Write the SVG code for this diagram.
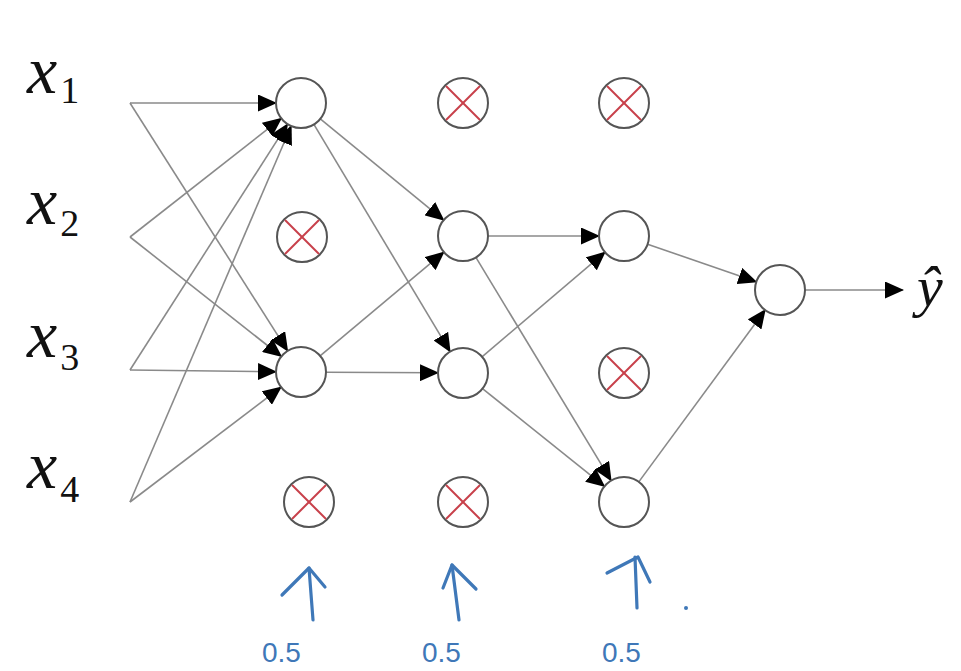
<svg xmlns="http://www.w3.org/2000/svg" width="961" height="671" viewBox="0 0 961 671">
<style>
.n{fill:#fff;stroke:#555;stroke-width:2}
.e{stroke:#8a8a8a;stroke-width:1.6;fill:none;marker-end:url(#ah)}
.x{stroke:#c8404a;stroke-width:2}
.lbl{font-family:"Liberation Serif","DejaVu Serif",serif;fill:#111}
.b{stroke:#3f78b8;stroke-width:3.2;fill:none;stroke-linecap:round;stroke-linejoin:round}
.bt{font-family:"Liberation Sans","DejaVu Sans",sans-serif;fill:#3f78b8;font-size:28px}
</style>
<defs>
<marker id="ah" markerUnits="userSpaceOnUse" markerWidth="19" markerHeight="17" refX="18" refY="8.5" orient="auto">
<path d="M0,0 L19,8.5 L0,17 z" fill="#000"/>
</marker>
<g id="drop-mark">
<line class="x" x1="-17" y1="-17" x2="17" y2="17"/>
<line class="x" x1="-17" y1="17" x2="17" y2="-17"/>
</g>
</defs>
<rect width="961" height="671" fill="#fff"/>

<g id="labels">
<text class="lbl" x="27" y="93" font-size="68" font-style="italic">x<tspan font-size="38" font-style="normal" dx="3" dy="10">1</tspan></text>
<text class="lbl" x="27" y="224" font-size="68" font-style="italic">x<tspan font-size="38" font-style="normal" dx="3" dy="12">2</tspan></text>
<text class="lbl" x="27" y="357" font-size="68" font-style="italic">x<tspan font-size="38" font-style="normal" dx="3" dy="13">3</tspan></text>
<text class="lbl" x="27" y="488" font-size="68" font-style="italic">x<tspan font-size="38" font-style="normal" dx="3" dy="14">4</tspan></text>
<text class="lbl" x="917" y="306" font-size="58" font-style="italic">ŷ</text>
</g>

<g id="connectors">
<line class="e" x1="130" y1="103" x2="276" y2="103"/>
<line class="e" x1="130" y1="103" x2="287.6" y2="350.9"/>
<line class="e" x1="130" y1="237" x2="281.3" y2="118.4"/>
<line class="e" x1="130" y1="237" x2="281.4" y2="356.5"/>
<line class="e" x1="130" y1="370" x2="287.5" y2="124.1"/>
<line class="e" x1="130" y1="370" x2="276" y2="371.7"/>
<line class="e" x1="130" y1="502" x2="291.2" y2="126"/>
<line class="e" x1="130" y1="502" x2="281.1" y2="387.1"/>
<line class="e" x1="320.3" y1="118.9" x2="443.7" y2="220.1"/>
<line class="e" x1="313.9" y1="124.4" x2="450.1" y2="351.6"/>
<line class="e" x1="320.1" y1="355.9" x2="443.9" y2="252.1"/>
<line class="e" x1="326" y1="372.2" x2="438" y2="372.8"/>
<line class="e" x1="488" y1="236" x2="599" y2="236"/>
<line class="e" x1="475.9" y1="257.4" x2="611.1" y2="480.6"/>
<line class="e" x1="482" y1="356.8" x2="605" y2="252.2"/>
<line class="e" x1="482.5" y1="388.6" x2="604.5" y2="486.4"/>
<line class="e" x1="647.6" y1="244.2" x2="756.4" y2="281.8"/>
<line class="e" x1="638.8" y1="481.9" x2="765.2" y2="309.9"/>
<line class="e" x1="805" y1="290" x2="903" y2="290"/>
</g>

<g id="L1n1"><circle class="n" cx="301" cy="103" r="25"/></g>
<g id="L1d2"><circle class="n" cx="302" cy="237" r="25"/><use href="#drop-mark" x="302" y="237"/></g>
<g id="L1n3"><circle class="n" cx="301" cy="372" r="25"/></g>
<g id="L1d4"><circle class="n" cx="309" cy="502" r="25"/><use href="#drop-mark" x="309" y="502"/></g>

<g id="L2d1"><circle class="n" cx="463" cy="103" r="25"/><use href="#drop-mark" x="463" y="103"/></g>
<g id="L2n2"><circle class="n" cx="463" cy="236" r="25"/></g>
<g id="L2n3"><circle class="n" cx="463" cy="373" r="25"/></g>
<g id="L2d4"><circle class="n" cx="463" cy="502" r="25"/><use href="#drop-mark" x="463" y="502"/></g>

<g id="L3d1"><circle class="n" cx="624" cy="103" r="25"/><use href="#drop-mark" x="624" y="103"/></g>
<g id="L3n2"><circle class="n" cx="624" cy="236" r="25"/></g>
<g id="L3d3"><circle class="n" cx="624" cy="373" r="25"/><use href="#drop-mark" x="624" y="373"/></g>
<g id="L3n4"><circle class="n" cx="624" cy="502" r="25"/></g>

<g id="out"><circle class="n" cx="780" cy="290" r="25"/></g>

<g id="annotations">
<path class="b" d="M313,620 L309,568"/>
<path class="b" d="M282,595 L309,568 L325,587"/>
<path class="b" d="M459,620 L452,565"/>
<path class="b" d="M443,588 L452,565 L476,589"/>
<path class="b" d="M637,608 L635,557"/>
<path class="b" d="M607,573 L638,557 L650,582"/>
<circle cx="686" cy="608" r="2" fill="#3f78b8"/>
<text class="bt" x="262" y="662">0.5</text>
<text class="bt" x="422" y="662">0.5</text>
<text class="bt" x="602" y="662">0.5</text>
</g>
</svg>
